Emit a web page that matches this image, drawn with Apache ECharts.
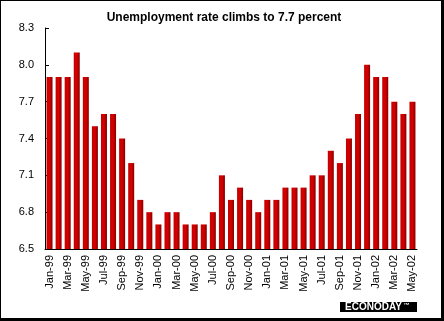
<!DOCTYPE html>
<html>
<head>
<meta charset="utf-8">
<script src="https://cdn.jsdelivr.net/npm/echarts@6/dist/echarts.min.js"></script>
<style>
html,body{margin:0;padding:0;background:#fff;}
#wrap{width:440px;height:317px;border-left:1px solid #000;border-top:1px solid #000;border-right:3px solid #000;border-bottom:4px solid #000;}
#chart{width:440px;height:317px;}
</style>
</head>
<body>
<div id="wrap"><div id="chart"></div></div>
<script>
const categories = ['Jan-99','Feb-99','Mar-99','Apr-99','May-99','Jun-99','Jul-99','Aug-99','Sep-99','Oct-99','Nov-99','Dec-99',
  'Jan-00','Feb-00','Mar-00','Apr-00','May-00','Jun-00','Jul-00','Aug-00','Sep-00','Oct-00','Nov-00','Dec-00',
  'Jan-01','Feb-01','Mar-01','Apr-01','May-01','Jun-01','Jul-01','Aug-01','Sep-01','Oct-01','Nov-01','Dec-01',
  'Jan-02','Feb-02','Mar-02','Apr-02','May-02'];
const unemploymentRate = [7.9,7.9,7.9,8.1,7.9,7.5,7.6,7.6,7.4,7.2,6.9,6.8,
  6.7,6.8,6.8,6.7,6.7,6.7,6.8,7.1,6.9,7.0,6.9,6.8,
  6.9,6.9,7.0,7.0,7.0,7.1,7.1,7.3,7.2,7.4,7.6,8.0,
  7.9,7.9,7.7,7.6,7.7];
const yTicks = [6.5,6.8,7.1,7.4,7.7,8.0,8.3];
const titleText = 'Unemployment rate climbs to 7.7 percent';

const chart = echarts.init(document.getElementById('chart'), null, {renderer:'canvas'});
const font = 'Arial, "Liberation Sans", sans-serif';
chart.setOption({
  animation:false,
  backgroundColor:'#fff',
  title:{text:titleText,left:218,top:6,textAlign:'center',
    textStyle:{fontFamily:font,fontSize:12,fontWeight:'bold',color:'#000'}},
  grid:{left:44,top:27,right:24,bottom:69,containLabel:false},
  xAxis:{type:'category',data:categories,boundaryGap:true,
    axisLine:{lineStyle:{color:'#000',width:1}},
    axisTick:{interval:1,length:4,lineStyle:{color:'#000'}},
    axisLabel:{interval:1,rotate:90,margin:6,color:'#000',fontFamily:font,fontSize:11}},
  yAxis:{type:'value',min:6.5,max:8.3,
    axisLine:{show:true,lineStyle:{color:'#000',width:1}},
    axisTick:{show:true,inside:true,length:4,customValues:yTicks,lineStyle:{color:'#000'}},
    axisLabel:{customValues:yTicks,margin:11,color:'#000',fontFamily:font,fontSize:11,
      formatter:v=>v.toFixed(1)},
    splitLine:{show:false}},
  series:[{type:'bar',data:unemploymentRate,barWidth:6,
    itemStyle:{color:new echarts.graphic.LinearGradient(0,0,1,0,[
      {offset:0,color:'#c40000'},{offset:0.5,color:'#d60000'},{offset:1,color:'#860000'}])}}],
  graphic:[
    {type:'rect',left:339,top:301,shape:{width:77,height:10},style:{fill:'#000'}},
    {type:'text',left:344,top:301,style:{text:'{a|ECONODAY}{b| ™}',
      rich:{a:{fill:'#fff',font:'bold 10px Arial, "Liberation Sans", sans-serif'},
            b:{fill:'#fff',font:'bold 6px Arial, "Liberation Sans", sans-serif',verticalAlign:'top'}}}}
  ]
});
</script>
</body>
</html>
